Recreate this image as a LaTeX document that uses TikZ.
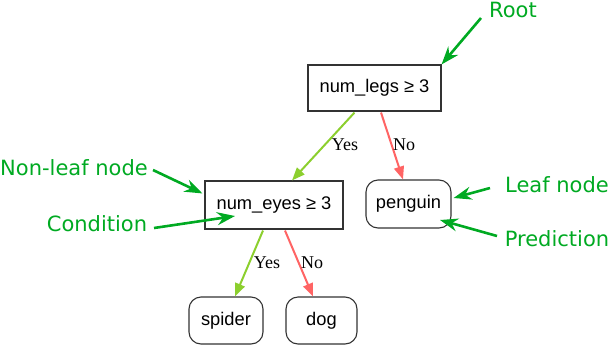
\documentclass[tikz,border=0pt]{standalone}
\usepackage{fontspec}
\setmainfont{Liberation Serif}
\newfontfamily\boxfont{Liberation Sans}
\newfontfamily\notefont{DejaVu Sans}
\usetikzlibrary{arrows.meta,calc}
\definecolor{notegreen}{HTML}{00AA22}
\definecolor{yesgreen}{HTML}{8CCF2E}
\definecolor{nored}{HTML}{FF6464}
\definecolor{boxgrey}{HTML}{333333}
\tikzset{
  condbox/.style={draw=boxgrey,line width=1.1pt,rectangle,font=\boxfont\fontsize{18.3}{20}\selectfont,inner sep=0pt},
  leafbox/.style={draw=boxgrey,line width=1.1pt,rectangle,rounded corners=12pt,font=\boxfont\fontsize{18.3}{20}\selectfont,inner sep=0pt},
  yesedge/.style={draw=yesgreen,line width=2pt,-{Triangle[length=13pt,width=10pt]}},
  noedge/.style={draw=nored,line width=2pt,-{Triangle[length=13pt,width=10pt]}},
  edgelabel/.style={font=\fontsize{18}{20}\selectfont,inner sep=0pt},
  notetext/.style={text=notegreen,font=\notefont\fontsize{21}{23}\selectfont,inner sep=0pt},
  notearrow/.style={draw=notegreen,line width=2.6pt,-{Stealth[length=18pt,width=13pt,inset=6pt]}}
}
\begin{document}
\begin{tikzpicture}[x=1pt,y=-1pt]
\useasboundingbox (0,0) rectangle (609,351);
% nodes
\node[condbox,minimum width=133pt,minimum height=46pt] (root) at (374.5,88) {num\_legs ≥ 3};
\node[condbox,minimum width=138pt,minimum height=48pt] (eyes) at (274,205) {num\_eyes ≥ 3};
\node[leafbox,minimum width=85pt,minimum height=48pt] (penguin) at (408.5,204) {penguin};
\node[leafbox,minimum width=74pt,minimum height=47pt] (spider) at (226,320.5) {spider};
\node[leafbox,minimum width=71pt,minimum height=47pt] (dog) at (321.5,320.5) {dog};
% edges
\draw[yesedge] ($(root.south)+(-20,1)$) -- ($(eyes.north)+(18,0)$);
\draw[noedge] ($(root.south)+(6.5,1)$) -- ($(penguin.north)+(-5.5,0)$);
\draw[yesedge] ($(eyes.south)+(-11,1)$) -- ($(spider.north)+(9,0)$);
\draw[noedge] ($(eyes.south)+(11,1)$) -- ($(dog.north)+(-8.5,0)$);
% edge labels
\node[edgelabel] (l1) at (345,145) {Yes};
\node[edgelabel] (l2) at (404,145) {No};
\node[edgelabel] (l3) at (267,263) {Yes};
\node[edgelabel] (l4) at (312,263) {No};
% annotations
\node[notetext] (nroot) at (513,10) {Root};
\node[notetext] (nnonleaf) at (74,168) {Non-leaf node};
\node[notetext] (ncond) at (97,224) {Condition};
\node[notetext] (nleaf) at (557,185) {Leaf node};
\node[notetext] (npred) at (557,239) {Prediction};
\coordinate (troot) at (481,18);
\coordinate (tnonleaf) at (153,170);
\coordinate (tcond) at (154,228);
\coordinate (tleaf) at (490,188);
\coordinate (tpred) at (497,236);
\coordinate (hcond) at (235,216);
\coordinate (hpred) at (440,220);
\draw[notearrow] (troot) -- (root.north east);
\draw[notearrow] (tnonleaf) -- ($(eyes.north west)+(-2,13)$);
\draw[notearrow] (tcond) -- (hcond);
\draw[notearrow] (tleaf) -- ($(penguin.east)+(2,-6)$);
\draw[notearrow] (tpred) -- (hpred);
\end{tikzpicture}
\end{document}
